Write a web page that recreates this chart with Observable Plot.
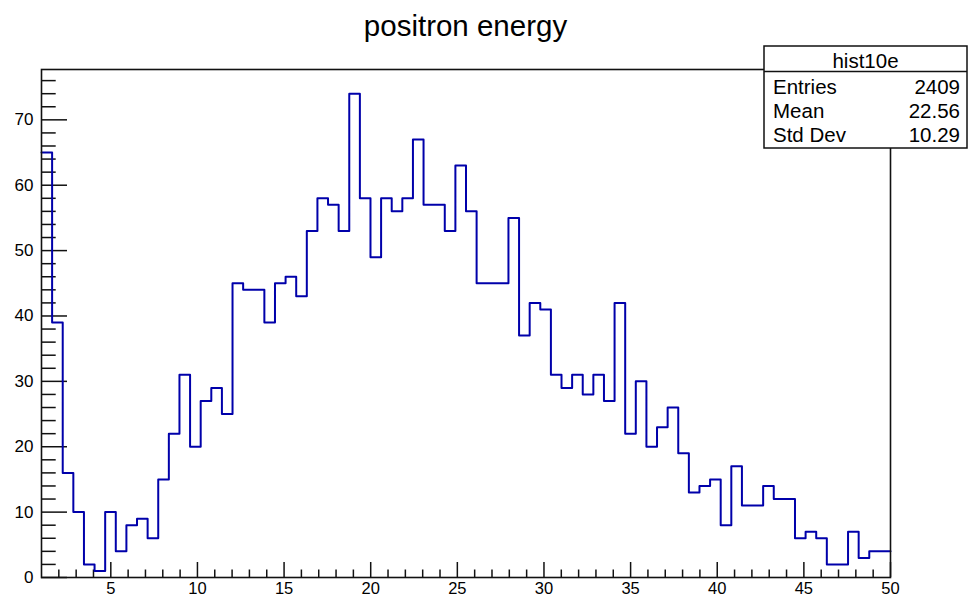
<!DOCTYPE html>
<html>
<head>
<meta charset="utf-8">
<script src="https://cdn.jsdelivr.net/npm/d3@7"></script>
<script src="https://cdn.jsdelivr.net/npm/@observablehq/plot@0.6"></script>
<style>
  html, body { margin: 0; padding: 0; background: #fff; }
  #chart { width: 968px; height: 598px; }
</style>
</head>
<body>
<div id="chart"></div>
<script>
// ---- data ----
const title = "positron energy";
const histName = "hist10e";
const binLow = 1;
const binHigh = 50;
const counts = [
  65, 39, 16, 10, 2, 1, 10, 4, 8, 9,
  6, 15, 22, 31, 20, 27, 29, 25, 45, 44,
  44, 39, 45, 46, 43, 53, 58, 57, 53, 74,
  58, 49, 58, 56, 58, 67, 57, 57, 53, 63,
  56, 45, 45, 45, 55, 37, 42, 41, 31, 29,
  31, 28, 31, 27, 42, 22, 30, 20, 23, 26,
  19, 13, 14, 15, 8, 17, 11, 11, 14, 12,
  12, 6, 7, 6, 2, 2, 7, 3, 4, 4
];
const statsLabels = ["Entries", "Mean", "Std Dev"];
const statsValues = ["2409", "22.56", "10.29"];
const xMajorTicks = [5, 10, 15, 20, 25, 30, 35, 40, 45, 50];
const xMinorTicks = [2,3,4,6,7,8,9,11,12,13,14,16,17,18,19,21,22,23,24,26,27,28,29,31,32,33,34,36,37,38,39,41,42,43,44,46,47,48,49];
const yMajorTicks = [0, 10, 20, 30, 40, 50, 60, 70];
const yMinorTicks = [2,4,6,8,12,14,16,18,22,24,26,28,32,34,36,38,42,44,46,48,52,54,56,58,62,64,66,68,72,74,76];
const yMax = 77.7;

// ---- build step outline from bin edges ----
const binWidth = (binHigh - binLow) / counts.length;
const steps = counts.map((c, i) => ({x: binLow + i * binWidth, y: c}));
steps.push({x: binHigh, y: counts[counts.length - 1]});

const W = 968, H = 598;
const mL = 41, mR = 78, mT = 69, mB = 21;
const font = "'Liberation Sans', Arial, Helvetica, sans-serif";
const ink = "#111";

const chart = Plot.plot({
  width: W, height: H,
  marginLeft: mL, marginRight: mR, marginTop: mT, marginBottom: mB,
  style: {fontFamily: font, fontSize: "16px", background: "white", overflow: "visible", color: "#000"},
  x: {domain: [binLow, binHigh]},
  y: {domain: [0, yMax]},
  marks: [
    Plot.axisX(xMinorTicks, {tickSize: -7.5, tickFormat: () => "", stroke: ink, strokeWidth: 1.5, label: null}),
    Plot.axisX(xMajorTicks, {tickSize: -15, tickFormat: () => "", stroke: ink, strokeWidth: 1.5, label: null}),
    Plot.axisX(xMajorTicks, {tickSize: 0, tickPadding: 5, fontSize: 16.5, fill: "#000", label: null}),
    Plot.axisY(yMinorTicks, {tickSize: -14.7, tickFormat: () => "", stroke: ink, strokeWidth: 1.5, label: null}),
    Plot.axisY(yMajorTicks, {tickSize: -26, tickFormat: () => "", stroke: ink, strokeWidth: 1.5, label: null}),
    Plot.axisY(yMajorTicks, {tickSize: 0, tickPadding: 8, fontSize: 17, fill: "#000", label: null}),
    Plot.line(steps, {x: "x", y: "y", curve: "step-after", stroke: "#0000aa", strokeWidth: 2}),
    Plot.frame({stroke: ink, strokeWidth: 1.6})
  ]
});
document.getElementById("chart").appendChild(chart);

// ---- title and stats box ----
const svg = d3.select(chart);
svg.append("text")
  .attr("x", (mL + W - mR) / 2).attr("y", 36)
  .attr("text-anchor", "middle")
  .attr("font-family", font).attr("font-size", 29.5).attr("fill", "#000")
  .text(title);

const bx0 = 764, bx1 = 967, by0 = 46, by1 = 148, bsep = 71.5;
const g = svg.append("g").attr("font-family", font).attr("fill", "#000");
g.append("rect").attr("x", bx0).attr("y", by0).attr("width", bx1 - bx0).attr("height", by1 - by0)
  .attr("fill", "white").attr("stroke", ink).attr("stroke-width", 1.5);
g.append("line").attr("x1", bx0).attr("x2", bx1).attr("y1", bsep).attr("y2", bsep)
  .attr("stroke", ink).attr("stroke-width", 1.5);
g.append("text").attr("x", (bx0 + bx1) / 2).attr("y", 68).attr("text-anchor", "middle")
  .attr("font-size", 20.5).text(histName);
const rowY = [94, 118, 142];
statsLabels.forEach((s, i) => {
  g.append("text").attr("x", 773).attr("y", rowY[i]).attr("text-anchor", "start").attr("font-size", 20.5).text(s);
  g.append("text").attr("x", 960).attr("y", rowY[i]).attr("text-anchor", "end").attr("font-size", 20.5).text(statsValues[i]);
});
</script>
</body>
</html>
